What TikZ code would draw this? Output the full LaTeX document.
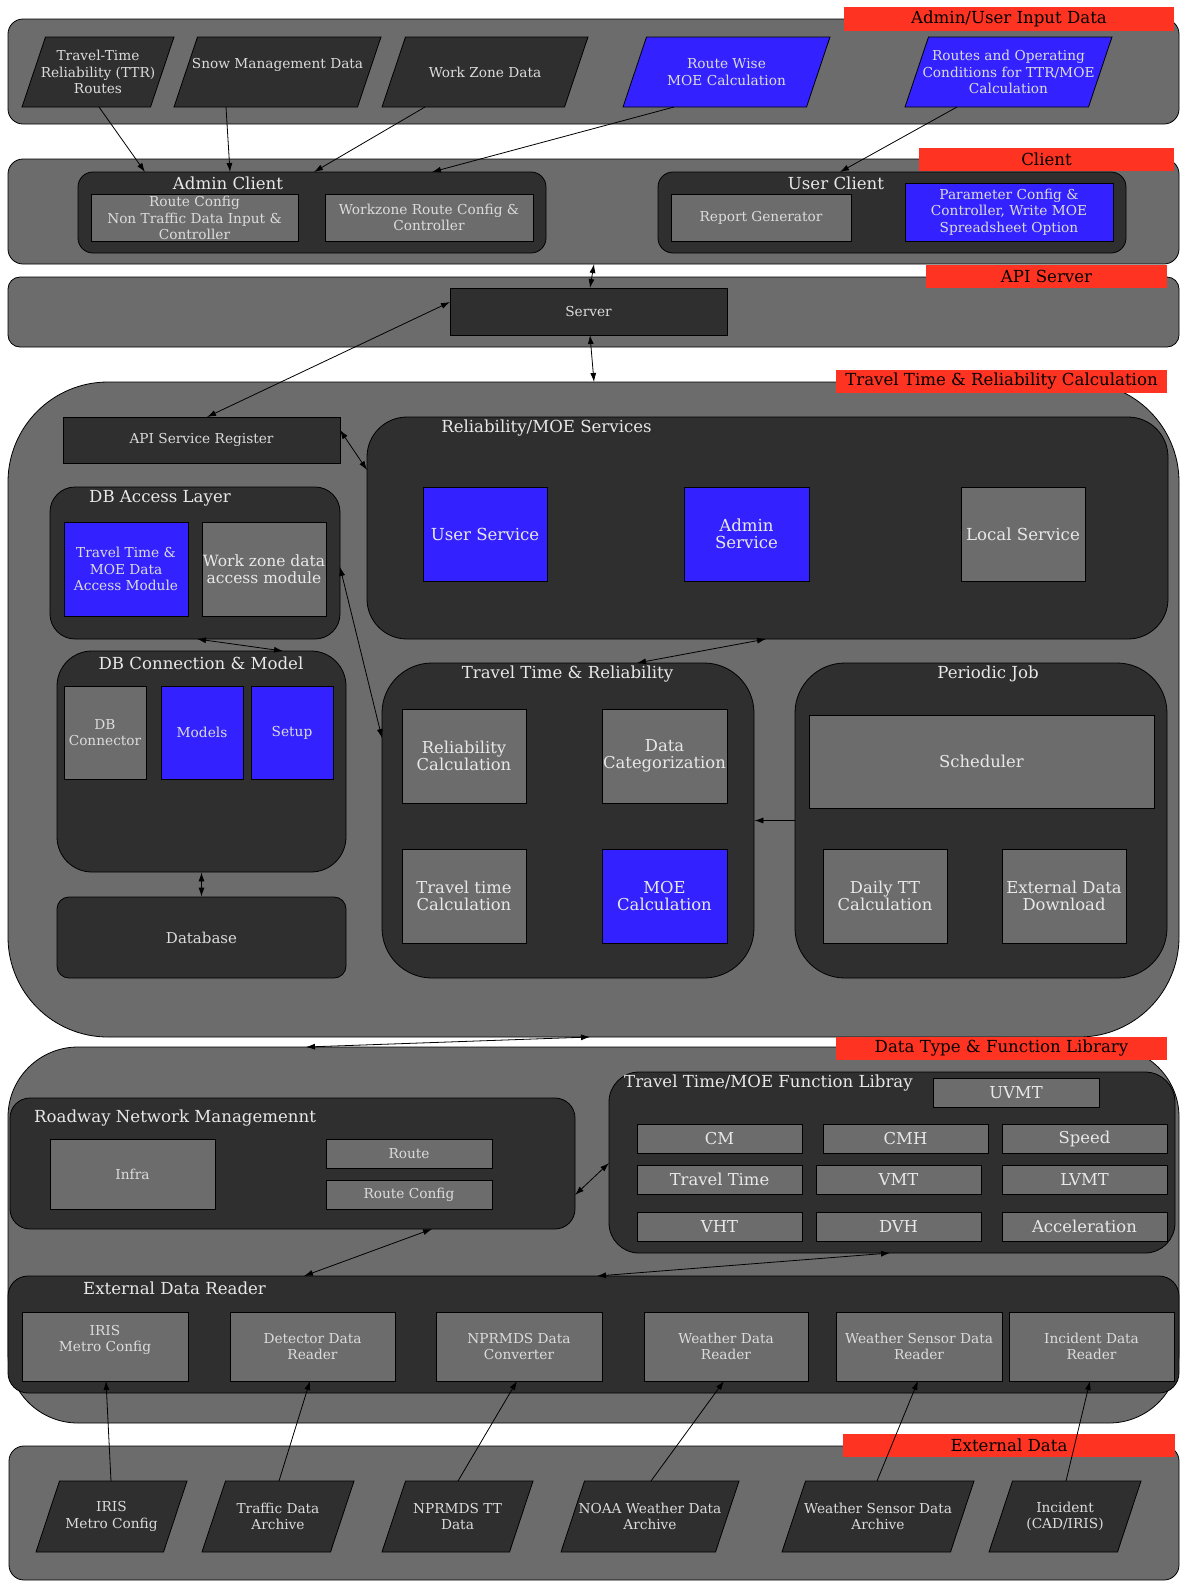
\documentclass[tikz,border=0pt]{standalone}
\usepackage{fontspec}
\setmainfont{DejaVu Serif}
\usetikzlibrary{arrows.meta,calc}
\definecolor{bandgray}{HTML}{6C6C6C}
\definecolor{darkbox}{HTML}{2F2F2F}
\definecolor{bluebox}{HTML}{3322FF}
\definecolor{redlab}{HTML}{FF3322}
\definecolor{txt}{HTML}{E8E8E8}
\definecolor{stxt}{HTML}{DCDCDC}
\newcommand{\fL}{\fontsize{16.6}{17}\selectfont}
\newcommand{\fM}{\fontsize{16.4}{16.4}\selectfont}
\newcommand{\fS}{\fontsize{13.7}{16.5}\selectfont}
% parallelogram: name, cx, cy, width, height, fill, text
\newcommand{\mypara}[7]{%
  \filldraw[fill=#6,draw=black,line width=0.8pt]
    ({#2-#4/2},{#3+#5/2}) -- ({#2+#4/2-23.5},{#3+#5/2}) --
    ({#2+#4/2},{#3-#5/2}) -- ({#2-#4/2+23.5},{#3-#5/2}) -- cycle;
  \node[ptext,minimum width=#4pt,minimum height=#5pt] (#1) at (#2,#3) {#7};}
\begin{document}
\begin{tikzpicture}[x=1pt,y=-1pt,
  >={Latex[length=9pt,width=6pt]},
  band/.style={draw=black,fill=bandgray,line width=0.8pt,inner sep=0},
  grp/.style={draw=black,fill=darkbox,line width=0.8pt,inner sep=0},
  gbox/.style={draw=black,fill=bandgray,text=txt,align=center,inner sep=0,line width=1pt},
  sbox/.style={gbox,text=stxt,font=\fS},
  bbox/.style={gbox,fill=bluebox},
  dbox/.style={gbox,fill=darkbox},
  redlabel/.style={fill=redlab,text=black,font=\fL,inner sep=0},
  ttl/.style={text=txt,font=\fL,inner sep=0},
  ptext/.style={text=stxt,align=center,font=\fS,inner sep=0},
  conn/.style={line width=0.8pt,<->},
  arr/.style={line width=0.8pt,->}]
\useasboundingbox (0,0) rectangle (1181,1583);
\fill[white] (0,0) rectangle (1181,1583);

% ---------- bands ----------
\node[band,rounded corners=15pt,minimum width=1171pt,minimum height=105pt] (inBand) at (593.5,71.5) {};
\node[band,rounded corners=15pt,minimum width=1171pt,minimum height=105pt] (clBand) at (593.5,211.5) {};
\node[band,rounded corners=12pt,minimum width=1171pt,minimum height=70pt] (apiBand) at (593.5,312) {};
\node[band,rounded corners=100pt,minimum width=1171pt,minimum height=655pt] (ttrBand) at (593.5,709.5) {};
\node[band,rounded corners=70pt,minimum width=1171pt,minimum height=376pt] (dtBand) at (593.5,1235) {};
\node[band,rounded corners=15pt,minimum width=1170pt,minimum height=134pt] (exBand) at (594,1513) {};

% ---------- red labels ----------
\node[redlabel,minimum width=330pt,minimum height=24pt] (lbInput) at (1009,19) {Admin/User Input Data};
\node[redlabel,minimum width=255pt,minimum height=23pt] (lbClient) at (1046.5,159.5) {Client};
\node[redlabel,minimum width=241pt,minimum height=23pt] (lbApi) at (1046.5,276.5) {API Server};
\node[redlabel,minimum width=331pt,minimum height=23pt] (lbTtr) at (1001.5,381.5) {Travel Time \& Reliability Calculation};
\node[redlabel,minimum width=331pt,minimum height=23pt] (lbDt) at (1001.5,1048.5) {Data Type \& Function Library};
\node[redlabel,minimum width=332pt,minimum height=23pt] (lbEx) at (1009,1445.5) {External Data};

% ---------- input data ----------
\mypara{pTTR}{98}{72}{152}{70}{darkbox}{\fontsize{13.7}{14.5}\selectfont Travel-Time\\Reliability (TTR)\\Routes}
\mypara{pSnow}{277.5}{72}{207}{70}{darkbox}{Snow Management Data\\\phantom{X}}
\mypara{pWork}{485}{72}{206}{70}{darkbox}{Work Zone Data}
\mypara{pRoute}{726.5}{72}{207}{70}{bluebox}{Route Wise\\MOE Calculation}
\mypara{pOper}{1008.5}{72}{207}{70}{bluebox}{Routes and Operating\\Conditions for TTR/MOE\\Calculation}

% ---------- client ----------
\node[grp,rounded corners=15pt,minimum width=468pt,minimum height=81pt] (adminClient) at (312,212.5) {};
\node[ttl] (tAdmin) at (228,183) {Admin Client};
\node[sbox,minimum width=207pt,minimum height=47pt] (routeCfg) at (194.5,218) {Route Config\\Non Traffic Data Input \&\\Controller};
\node[sbox,minimum width=208pt,minimum height=47pt] (wzCfg) at (429,217.5) {Workzone Route Config \&\\Controller};
\node[grp,rounded corners=15pt,minimum width=468pt,minimum height=81pt] (userClient) at (892,212.5) {};
\node[ttl] (tUser) at (836,183) {User Client};
\node[sbox,minimum width=180pt,minimum height=47pt] (reportGen) at (761,217.5) {Report Generator};
\node[sbox,fill=bluebox,minimum width=208pt,minimum height=58pt] (paramCfg) at (1009,212) {Parameter Config \&\\Controller, Write MOE\\Spreadsheet Option};

% ---------- API server ----------
\node[sbox,fill=darkbox,minimum width=277pt,minimum height=47pt] (server) at (588.5,311.5) {Server};

% ---------- TTR calculation ----------
\node[sbox,fill=darkbox,minimum width=277pt,minimum height=46pt] (apiReg) at (201.5,440) {API Service Register};
\node[grp,rounded corners=40pt,minimum width=801pt,minimum height=222pt] (relSvc) at (767.5,528) {};
\node[ttl] (tRel) at (546.5,428) {Reliability/MOE Services};
\node[bbox,font=\fL,minimum width=124pt,minimum height=94pt] (userSvc) at (485,534) {User Service};
\node[bbox,font=\fL,minimum width=125pt,minimum height=94pt] (adminSvc) at (746.5,534) {Admin\\Service};
\node[gbox,font=\fL,minimum width=124pt,minimum height=94pt] (localSvc) at (1023,534) {Local Service};

\node[grp,rounded corners=25pt,minimum width=290pt,minimum height=152pt] (dbAccess) at (195,563) {};
\node[ttl] (tDbAcc) at (160,498) {DB Access Layer};
\node[sbox,fill=bluebox,minimum width=124pt,minimum height=94pt] (ttMoeAcc) at (126,569) {Travel Time \&\\MOE Data\\Access Module};
\node[gbox,font=\fontsize{15.5}{16.5}\selectfont,minimum width=124pt,minimum height=94pt] (wzAcc) at (264,569) {Work zone data\\access module};

\node[grp,rounded corners=35pt,minimum width=289pt,minimum height=221pt] (dbConn) at (201.5,761.5) {};
\node[ttl] (tDbConn) at (201,663) {DB Connection \& Model};
\node[sbox,minimum width=82pt,minimum height=93pt] (dbConnector) at (105,732.5) {DB\\Connector};
\node[sbox,fill=bluebox,minimum width=82pt,minimum height=93pt] (models) at (202,732.5) {Models};
\node[sbox,fill=bluebox,minimum width=82pt,minimum height=93pt] (setup) at (292,732.5) {Setup};
\node[grp,rounded corners=12pt,minimum width=289pt,minimum height=81pt,text=stxt,font=\fontsize{15}{16}\selectfont] (database) at (201.5,937.5) {Database};

\node[grp,rounded corners=50pt,minimum width=372pt,minimum height=315pt] (ttrBox) at (568,820.5) {};
\node[ttl] (tTtr) at (567.5,674) {Travel Time \& Reliability};
\node[gbox,font=\fM,minimum width=124pt,minimum height=94pt] (relCalc) at (464,756) {Reliability\\Calculation};
\node[gbox,font=\fM,minimum width=125pt,minimum height=94pt] (dataCat) at (664.5,756) {Data\\Categorization};
\node[gbox,font=\fM,minimum width=124pt,minimum height=94pt] (ttCalc) at (464,896) {Travel time\\Calculation};
\node[bbox,font=\fM,minimum width=125pt,minimum height=94pt] (moeCalc) at (664.5,896) {MOE\\Calculation};

\node[grp,rounded corners=50pt,minimum width=372pt,minimum height=315pt] (periodic) at (981,820.5) {};
\node[ttl] (tPer) at (988,674) {Periodic Job};
\node[gbox,font=\fM,minimum width=345pt,minimum height=93pt] (scheduler) at (981.5,761.5) {Scheduler};
\node[gbox,font=\fM,minimum width=124pt,minimum height=94pt] (dailyTT) at (885,896) {Daily TT\\Calculation};
\node[gbox,font=\fM,minimum width=124pt,minimum height=94pt] (extDl) at (1064,896) {External Data\\Download};

% ---------- data type & function library ----------
\node[grp,rounded corners=20pt,minimum width=565pt,minimum height=131pt] (roadway) at (292.5,1163.5) {};
\node[ttl,anchor=west] (tRoad) at (34,1118) {Roadway Network Managemennt};
\node[sbox,minimum width=165pt,minimum height=70pt] (infra) at (132.5,1174) {Infra};
\node[sbox,minimum width=166pt,minimum height=29pt] (route) at (409,1153.5) {Route};
\node[sbox,minimum width=166pt,minimum height=29pt] (routeConfig) at (409,1194.5) {Route Config};

\node[grp,rounded corners=30pt,minimum width=566pt,minimum height=181pt] (funcLib) at (892,1162.5) {};
\node[ttl,anchor=west] (tFunc) at (624,1083) {Travel Time/MOE Function Libray};
\node[gbox,font=\fM,minimum width=166pt,minimum height=29pt] (uvmt) at (1016,1092.5) {UVMT};
\node[gbox,font=\fM,minimum width=165pt,minimum height=29pt] (cm) at (719.5,1138.5) {CM};
\node[gbox,font=\fM,minimum width=165pt,minimum height=29pt] (cmh) at (905.5,1138.5) {CMH};
\node[gbox,font=\fM,minimum width=165pt,minimum height=29pt] (speed) at (1084.5,1138.5) {Speed};
\node[gbox,font=\fM,minimum width=165pt,minimum height=29pt] (travelTime) at (719.5,1179.5) {Travel Time};
\node[gbox,font=\fM,minimum width=165pt,minimum height=29pt] (vmt) at (898.5,1179.5) {VMT};
\node[gbox,font=\fM,minimum width=165pt,minimum height=29pt] (lvmt) at (1084.5,1179.5) {LVMT};
\node[gbox,font=\fM,minimum width=165pt,minimum height=29pt] (vht) at (719.5,1226.5) {VHT};
\node[gbox,font=\fM,minimum width=165pt,minimum height=29pt] (dvh) at (898.5,1226.5) {DVH};
\node[gbox,font=\fM,minimum width=165pt,minimum height=29pt] (accel) at (1084.5,1226.5) {Acceleration};

\node[grp,rounded corners=20pt,minimum width=1171pt,minimum height=117pt] (extReader) at (593.5,1334.5) {};
\node[ttl,anchor=west] (tExtR) at (83,1288) {External Data Reader};
\node[sbox,minimum width=166pt,minimum height=69pt] (r1) at (105,1346.5) {IRIS\\Metro Config\\\phantom{X}};
\node[sbox,minimum width=165pt,minimum height=69pt] (r2) at (312.5,1346.5) {Detector Data\\Reader};
\node[sbox,minimum width=166pt,minimum height=69pt] (r3) at (519,1346.5) {NPRMDS Data\\Converter};
\node[sbox,minimum width=164pt,minimum height=69pt] (r4) at (726,1346.5) {Weather Data\\Reader};
\node[sbox,minimum width=166pt,minimum height=69pt] (r5) at (919,1346.5) {Weather Sensor Data\\Reader};
\node[sbox,minimum width=165pt,minimum height=69pt] (r6) at (1091.5,1346.5) {Incident Data\\Reader};

% ---------- external data ----------
\mypara{e1}{111.5}{1516.5}{151}{71}{darkbox}{\fontsize{13.7}{17.5}\selectfont IRIS\\Metro Config}
\mypara{e2}{278}{1516.5}{152}{71}{darkbox}{\fontsize{13.7}{17.5}\selectfont Traffic Data\\Archive}
\mypara{e3}{457.5}{1516.5}{151}{71}{darkbox}{\fontsize{13.7}{17.5}\selectfont NPRMDS TT\\Data}
\mypara{e4}{650}{1516.5}{178}{71}{darkbox}{\fontsize{13.7}{17.5}\selectfont NOAA Weather Data\\Archive}
\mypara{e5}{878}{1516.5}{192}{71}{darkbox}{\fontsize{13.7}{17.5}\selectfont Weather Sensor Data\\Archive}
\mypara{e6}{1065}{1516.5}{152}{71}{darkbox}{\fontsize{13.7}{17.5}\selectfont Incident\\(CAD/IRIS)}

% ---------- connectors ----------
\draw[arr] ($(pTTR)+(1,35)$) -- ($(adminClient)+(-167,-40.5)$);
\draw[arr] ($(pSnow)+(-51.5,35)$) -- ($(adminClient)+(-82,-40.5)$);
\draw[arr] ($(pWork)+(-60,35)$) -- ($(adminClient)+(2,-40.5)$);
\draw[arr] ($(pRoute)+(-52.5,35)$) -- ($(adminClient)+(120,-40.5)$);
\draw[arr] ($(pOper)+(-51.5,35)$) -- ($(userClient)+(-52,-40.5)$);
\draw[conn] ($(clBand)+(0.5,52.5)$) -- ($(server)+(1.5,-23.5)$);
\draw[conn] ($(server)+(1.5,23.5)$) -- ($(ttrBand)+(0.5,-327.5)$);
\draw[conn] ($(server)+(-138.5,-9.5)$) -- ($(apiReg)+(5.5,-23)$);
\draw[conn] ($(apiReg)+(138.5,-10)$) -- ($(relSvc)+(-400.5,-58)$);
\draw[conn] ($(dbAccess)+(2,76)$) -- ($(dbConn)+(81.5,-110.5)$);
\draw[conn] ($(dbAccess)+(145,4)$) -- ($(ttrBox)+(-186,-82.5)$);
\draw[conn] ($(relSvc)+(-1.5,111)$) -- ($(ttrBox)+(69,-157.5)$);
\draw[arr] (periodic.west) -- (ttrBox.east);
\draw[conn] (dbConn.south) -- (database.north);
\draw[conn] ($(ttrBand)+(-3.5,327.5)$) -- ($(dtBand)+(-287.5,-188)$);
\draw[conn] ($(roadway)+(282.5,31.5)$) -- ($(funcLib)+(-283,0.5)$);
\draw[conn] ($(roadway)+(139.5,65.5)$) -- ($(extReader)+(-289.5,-58.5)$);
\draw[conn] ($(funcLib)+(-2,90.5)$) -- ($(extReader)+(3.5,-58.5)$);
\draw[arr] ($(e1)+(-0.5,-35.5)$) -- ($(r1)+(1,34.5)$);
\draw[arr] ($(e2)+(1,-35.5)$) -- ($(r2)+(-2.5,34.5)$);
\draw[arr] ($(e3)+(0.5,-35.5)$) -- ($(r3)+(-2,34.5)$);
\draw[arr] ($(e4)+(1,-35.5)$) -- ($(r4)+(-2,34.5)$);
\draw[arr] ($(e5)+(-1,-35.5)$) -- ($(r5)+(-1,34.5)$);
\draw[arr] ($(e6)+(1,-35.5)$) -- ($(r6)+(-1.5,34.5)$);
\end{tikzpicture}
\end{document}
